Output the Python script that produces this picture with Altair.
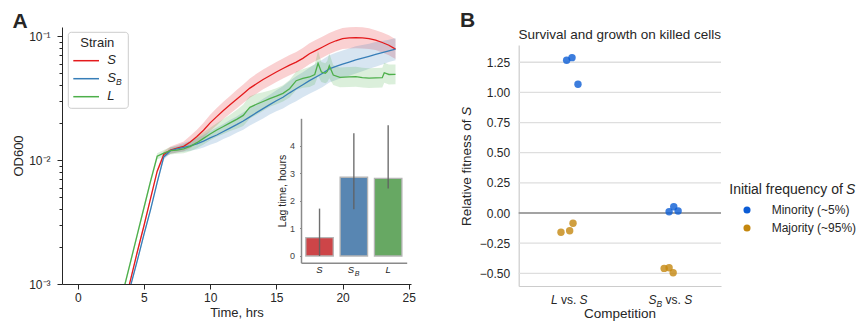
import altair as alt
import pandas as pd

FONT = "Liberation Sans"
INK = "#262626"

# ---------------- Panel A: growth curves (OD600, log scale) ----------------
T_GRID = [3.5, 4.0, 4.5, 5.0, 5.5, 6.0, 6.5, 7.0, 7.5, 8.0, 8.5, 9.0, 9.5, 10.0,
          10.5, 11.0, 11.5, 12.0, 12.5, 13.0, 13.5, 14.0, 14.5, 15.0, 15.5, 16.0,
          16.5, 17.0, 17.5, 18.0, 18.5, 19.0, 19.5, 20.0, 20.5, 21.0, 21.5, 22.0,
          22.5, 23.0, 23.5, 24.0]

OD_S = [6.76e-4, 1.096e-3, 1.820e-3, 2.951e-3, 4.898e-3, 8.128e-3, 0.01109, 0.01202,
        0.01245, 0.01288, 0.01396, 0.01549, 0.01738, 0.01995, 0.02239, 0.02512, 0.02786,
        0.03090, 0.03428, 0.03802, 0.04121, 0.04467, 0.04786, 0.05129, 0.05470, 0.05834,
        0.06166, 0.06607, 0.07194, 0.07674, 0.08166, 0.08710, 0.09162, 0.09550, 0.09661,
        0.09705, 0.09661, 0.09528, 0.09268, 0.08872, 0.08433, 0.07852]
BAND_S = [0.02, 0.02, 0.02, 0.02, 0.02, 0.02, 0.025, 0.03, 0.035, 0.04, 0.05, 0.055,
          0.06, 0.065, 0.07, 0.07, 0.072, 0.075, 0.075, 0.078, 0.08, 0.08, 0.08, 0.08,
          0.08, 0.082, 0.082, 0.083, 0.085, 0.085, 0.085, 0.085, 0.085, 0.085, 0.085,
          0.085, 0.085, 0.083, 0.08, 0.08, 0.08, 0.08]

OD_SB = [6.026e-4, 9.772e-4, 1.549e-3, 2.512e-3, 3.981e-3, 6.607e-3, 0.01059, 0.01189,
         0.01230, 0.01265, 0.01303, 0.01349, 0.01419, 0.01507, 0.01592, 0.01698, 0.01807,
         0.01928, 0.02065, 0.02228, 0.02410, 0.02600, 0.02799, 0.03006, 0.03206, 0.03483,
         0.03758, 0.04046, 0.04365, 0.04677, 0.05012, 0.05433, 0.05689, 0.05943, 0.06166,
         0.06412, 0.06637, 0.06871, 0.07112, 0.07345, 0.07586, 0.07852]
BAND_SB = [0.02, 0.02, 0.02, 0.02, 0.02, 0.02, 0.02, 0.025, 0.03, 0.035, 0.04, 0.045,
           0.05, 0.055, 0.06, 0.06, 0.065, 0.065, 0.07, 0.07, 0.075, 0.08, 0.08, 0.085,
           0.09, 0.095, 0.1, 0.1, 0.105, 0.11, 0.11, 0.11, 0.11, 0.11, 0.11, 0.11, 0.105,
           0.1, 0.1, 0.095, 0.09, 0.09]

T_L = [3.5, 4.0, 4.5, 5.0, 5.5, 6.0, 6.5, 7.0, 7.5, 8.0, 8.5, 9.0, 9.5, 10.0, 10.5,
       11.0, 11.5, 12.0, 12.5, 12.8, 13.0, 13.5, 14.0, 14.5, 15.0, 15.5, 16.0, 16.5,
       17.0, 17.5, 17.9, 18.15, 18.4, 18.7, 18.85, 19.0, 19.3, 19.8, 20.5, 21.0, 21.5,
       22.0, 22.5, 23.0, 23.15, 23.5, 24.0]
OD_L = [9.333e-4, 1.531e-3, 2.512e-3, 4.121e-3, 6.761e-3, 0.01072, 0.01135, 0.01189,
        0.01202, 0.01230, 0.01288, 0.01380, 0.01496, 0.01622, 0.01746, 0.01862, 0.01995,
        0.02128, 0.02291, 0.02512, 0.02661, 0.02818, 0.02965, 0.03126, 0.03273, 0.03451,
        0.03758, 0.04365, 0.04550, 0.04677, 0.04898, 0.06026, 0.05129, 0.05012, 0.05188,
        0.05754, 0.04842, 0.04645, 0.04677, 0.04699, 0.04624, 0.04571, 0.04592, 0.04613,
        0.05058, 0.04898, 0.04909]
BAND_L = [0.025, 0.025, 0.025, 0.025, 0.025, 0.025, 0.025, 0.03, 0.03, 0.035, 0.04,
          0.045, 0.05, 0.05, 0.055, 0.06, 0.065, 0.075, 0.085, 0.09, 0.09, 0.085, 0.075,
          0.065, 0.065, 0.065, 0.07, 0.075, 0.075, 0.08, 0.08, 0.1, 0.08, 0.08, 0.085,
          0.1, 0.08, 0.08, 0.08, 0.08, 0.08, 0.08, 0.08, 0.08, 0.08, 0.08, 0.08]

STRAIN_KEYS = ["S", "SB", "L"]
STRAIN_COLORS = ["#e41a1c", "#377eb8", "#4daf4a"]
A_XTICKS = [0, 5, 10, 15, 20, 25]
A_YTICKS = [0.001, 0.002, 0.003, 0.004, 0.005, 0.006, 0.007, 0.008, 0.009,
            0.01, 0.02, 0.03, 0.04, 0.05, 0.06, 0.07, 0.08, 0.09, 0.1]

# ---------------- Inset: lag time ----------------
LAG_MEAN = [0.67, 2.86, 2.82]
LAG_LO = [0.0, 1.70, 2.45]
LAG_HI = [1.72, 4.46, 4.75]
BAR_COLORS = ["#cd4548", "#5886b2", "#67a863"]
INSET_YTICKS = [0, 1, 2, 3, 4]

# ---------------- Panel B: relative fitness ----------------
COMP_INDEX = [0, 0, 0, 0, 0, 0, 1, 1, 1, 1, 1, 1]
FREQ = ["Minority (~5%)", "Minority (~5%)", "Minority (~5%)",
        "Majority (~95%)", "Majority (~95%)", "Majority (~95%)",
        "Minority (~5%)", "Minority (~5%)", "Minority (~5%)",
        "Majority (~95%)", "Majority (~95%)", "Majority (~95%)"]
JITTER = [-0.026, 0.027, 0.086, -0.082, 0.004, 0.037,
          -0.013, 0.033, 0.076, -0.062, -0.013, 0.027]
FITNESS = [1.267, 1.288, 1.068, -0.160, -0.147, -0.085,
           0.011, 0.052, 0.017, -0.459, -0.454, -0.495]
FREQ_LEVELS = ["Minority (~5%)", "Majority (~95%)"]
FREQ_COLORS = ["#0b5cd5", "#c4870f"]
B_YTICKS = [-0.5, -0.25, 0.0, 0.25, 0.5, 0.75, 1.0, 1.25]


def curve(strain, ts, ods, hws):
    return pd.DataFrame({
        "t": ts, "od": ods,
        "lo": [o / 10 ** h for o, h in zip(ods, hws)],
        "hi": [o * 10 ** h for o, h in zip(ods, hws)],
        "strain": strain,
    })


curves = pd.concat([curve("S", T_GRID, OD_S, BAND_S),
                    curve("SB", T_GRID, OD_SB, BAND_SB),
                    curve("L", T_L, OD_L, BAND_L)], ignore_index=True)

# ---- panel A main plot ----
xa_scale = alt.Scale(domain=[-1.19, 25.17], nice=False, zero=False)
ya_scale = alt.Scale(type="log", domain=[0.001, 0.1183], nice=False)
xa_axis = alt.Axis(orient="bottom", values=A_XTICKS, title="Time, hrs", titleFontSize=13,
                   titleFontWeight="normal", titleColor=INK, titlePadding=3,
                   labelFontSize=12, labelColor=INK, labelPadding=3, labelFlush=False,
                   tickSize=5, tickColor=INK, domainColor=INK, grid=False)
major_test = "datum.value == 0.1 || datum.value == 0.01 || datum.value == 0.001"
ya_axis = alt.Axis(orient="left", values=A_YTICKS, title="OD600", titleFontSize=13,
                   titleFontWeight="normal", titleColor=INK, titlePadding=3,
                   labelExpr="datum.value == 0.1 ? '10\u207b\u00b9' : datum.value == 0.01 ? '10\u207b\u00b2' : datum.value == 0.001 ? '10\u207b\u00b3' : ''",
                   labelFontSize=12, labelColor=INK, labelPadding=7, labelOverlap=False,
                   labelFlush=False,
                   tickSize={"condition": {"test": major_test, "value": 5}, "value": 3},
                   tickColor=INK, domainColor=INK, grid=False)
a_color = alt.Color("strain:N", scale=alt.Scale(domain=STRAIN_KEYS, range=STRAIN_COLORS),
                    legend=None)

bands = alt.Chart(curves).mark_area(opacity=0.2, clip=True).encode(
    x=alt.X("t:Q", scale=xa_scale, axis=xa_axis),
    y=alt.Y("lo:Q", scale=ya_scale, axis=ya_axis),
    y2="hi:Q",
    color=a_color,
)
lines = alt.Chart(curves).mark_line(strokeWidth=1.3, clip=True).encode(
    x=alt.X("t:Q", scale=xa_scale, axis=xa_axis),
    y=alt.Y("od:Q", scale=ya_scale, axis=ya_axis),
    color=a_color,
)
panel_a = alt.layer(bands, lines)

# ---- inset ----
inset_df = pd.DataFrame({"strain": STRAIN_KEYS, "lag": LAG_MEAN, "lo": LAG_LO, "hi": LAG_HI})
xi_scale = alt.Scale(domain=STRAIN_KEYS, range=[239, 344.7], paddingInner=0.2, paddingOuter=0.14)
yi_scale = alt.Scale(domain=[-0.244, 5.0], range=[235.7, 91.3], nice=False, zero=False)
xi_axis = alt.Axis(orient="bottom", offset=-21.3, labels=False, ticks=False, title=None,
                   domainColor="#8a8a8a", domainWidth=1.5, grid=False)
yi_axis = alt.Axis(orient="left", offset=-239, values=INSET_YTICKS, title="Lag time, hours",
                   titleFontSize=10.5, titleFontWeight="normal", titleColor=INK, titlePadding=2,
                   labelFontSize=9, labelColor="#444444", labelPadding=5, tickSize=1.5,
                   tickColor="#8a8a8a", domainColor="#8a8a8a", domainWidth=1.5,
                   labelFlush=False, grid=False)
i_color = alt.Color("strain:N", scale=alt.Scale(domain=STRAIN_KEYS, range=BAR_COLORS), legend=None)

bars = alt.Chart(inset_df).mark_bar(stroke="#b5b5b5", strokeWidth=1.3).encode(
    x=alt.X("strain:N", scale=xi_scale, axis=xi_axis),
    y=alt.Y("lag:Q", scale=yi_scale, axis=yi_axis),
    y2=alt.Y2(datum=0),
    color=i_color,
)
errs = alt.Chart(inset_df).mark_rule(color="#5f5f5f", strokeWidth=1.4, opacity=0.9).encode(
    x=alt.X("strain:N", scale=xi_scale, axis=xi_axis),
    y=alt.Y("lo:Q", scale=yi_scale, axis=yi_axis),
    y2="hi:Q",
)
dummy = pd.DataFrame({"k": [0]})


def inset_label(text, cat, dx, size, y, align):
    return alt.Chart(dummy).mark_text(
        text=text, fontSize=size, fontStyle="italic", color=INK, align=align,
        baseline="alphabetic", dx=dx).encode(
        x=alt.X(datum=cat, type="nominal", scale=xi_scale, axis=xi_axis),
        y=alt.value(y))


inset = alt.layer(
    bars, errs,
    inset_label("S", "S", 0, 9.5, 246.3, "center"),
    inset_label("S", "SB", -6, 9.5, 246.3, "left"),
    inset_label("B", "SB", 0.8, 7, 248.8, "left"),
    inset_label("L", "L", 0, 9.5, 246.3, "center"),
)

# ---- panel B ----
b_df = pd.DataFrame({"xpos": [c + j for c, j in zip(COMP_INDEX, JITTER)],
                     "fitness": FITNESS, "freq": FREQ})
grid_df = pd.DataFrame({"v": B_YTICKS})
xb_scale = alt.Scale(domain=[-0.5, 1.5], range=[456.7, 659], nice=False, zero=False)
yb_scale = alt.Scale(domain=[-0.605, 1.393], range=[259, 18], nice=False, zero=False)
xb_axis = alt.Axis(orient="bottom", offset=2, labels=False, ticks=False, title=None,
                   domainColor="#cccccc", domainWidth=1.2, grid=False)
yb_axis = alt.Axis(orient="left", offset=-456.7, values=B_YTICKS, format=".2f", ticks=False,
                   title=None, labelFontSize=12, labelColor=INK, labelPadding=9,
                   labelFlush=False, domainColor="#cccccc", domainWidth=1.2, grid=False)

b_grid = alt.Chart(grid_df).mark_rule(color="#dedede", strokeWidth=1.3).encode(
    y=alt.Y("v:Q", scale=yb_scale, axis=yb_axis),
    x=alt.X(datum=-0.5, scale=xb_scale, axis=xb_axis),
    x2=alt.X2(datum=1.5),
)
b_zero = alt.Chart(dummy).mark_rule(color="#8c8c8c", strokeWidth=1.3).encode(
    y=alt.Y(datum=0, scale=yb_scale, axis=yb_axis),
    x=alt.X(datum=-0.5, scale=xb_scale, axis=xb_axis),
    x2=alt.X2(datum=1.5),
)
b_points = alt.Chart(b_df).mark_circle(size=55, opacity=0.8).encode(
    x=alt.X("xpos:Q", scale=xb_scale, axis=xb_axis),
    y=alt.Y("fitness:Q", scale=yb_scale, axis=yb_axis),
    color=alt.Color("freq:N", scale=alt.Scale(domain=FREQ_LEVELS, range=FREQ_COLORS),
                    legend=alt.Legend(orient="none", legendX=679, legendY=177, title=None,
                                      symbolType="circle", symbolSize=50, symbolOpacity=1,
                                      symbolStrokeWidth=0, labelFontSize=12, labelColor=INK,
                                      labelOffset=18.7, rowPadding=6, padding=0)),
)


def b_label(text, cat, dx, size, y, italic):
    return alt.Chart(dummy).mark_text(
        text=text, fontSize=size, fontStyle="italic" if italic else "normal", color=INK,
        align="left", baseline="alphabetic", dx=dx).encode(
        x=alt.X(datum=cat, scale=xb_scale, axis=xb_axis),
        y=alt.value(y))


panel_b = alt.layer(
    b_grid, b_zero, b_points,
    b_label("L", 0, -18.35, 12, 277, True),
    b_label("vs.", 0, -8.34, 12, 277, False),
    b_label("S", 0, 10.34, 12, 277, True),
    b_label("S", 1, -21.85, 12, 277, True),
    b_label("B", 1, -13.85, 8.5, 280, True),
    b_label("vs.", 1, -4.84, 12, 277, False),
    b_label("S", 1, 13.84, 12, 277, True),
)


# ---- free annotations (panel letters, titles, legend of A) ----
def note(text, x, y, size, align="left", weight="normal", style="normal", angle=0,
         baseline="alphabetic", color=INK):
    return alt.Chart(dummy).mark_text(
        text=text, fontSize=size, align=align, fontWeight=weight, fontStyle=style,
        angle=angle, baseline=baseline, color=color).encode(
        x=alt.value(x), y=alt.value(y))


legend_box = alt.Chart(dummy).mark_rect(
    fill="white", fillOpacity=0.8, stroke="#cccccc", strokeWidth=1, cornerRadius=3).encode(
    x=alt.value(6.3), x2=alt.value(66.3), y=alt.value(5.3), y2=alt.value(81.3))


def legend_line(color, y):
    return alt.Chart(dummy).mark_rule(color=color, strokeWidth=1.5).encode(
        x=alt.value(11.3), x2=alt.value(37), y=alt.value(y))


annots = [
    note("A", -49.5, 0.5, 21, weight="bold"),
    note("B", 398, 0.3, 21, weight="bold"),
    note("Survival and growth on killed cells", 557.7, 12, 13.5, align="center"),
    note("Relative fitness of", 404.7, 92.45, 13.5, align="right", angle=270,
         baseline="middle"),
    note("S", 404.7, 88.7, 13.5, align="left", angle=270, baseline="middle", style="italic"),
    note("Competition", 557.9, 291, 13.5, align="center"),
    note("Initial frequency of", 667.3, 167, 14),
    note("S", 784.0, 167, 14, style="italic"),
    legend_box,
    note("Strain", 35.3, 19.7, 13, align="center"),
    legend_line(STRAIN_COLORS[0], 33.7),
    legend_line(STRAIN_COLORS[1], 51.7),
    legend_line(STRAIN_COLORS[2], 69.7),
    note("S", 45.3, 37, 13, style="italic"),
    note("S", 45.3, 55, 13, style="italic"),
    note("B", 53.97, 58, 8.5, style="italic"),
    note("L", 45.3, 73, 13, style="italic"),
]

chart = alt.layer(panel_a, inset, panel_b, *annots).resolve_scale(
    x="independent", y="independent", color="independent"
).properties(
    width=349, height=257,
    autosize=alt.AutoSizeParams(type="none"),
    padding={"left": 62, "top": 27, "right": 445, "bottom": 41},
).configure(font=FONT).configure_view(strokeWidth=0)

chart.save("out.html", embed_options={"renderer": "svg", "actions": False})
